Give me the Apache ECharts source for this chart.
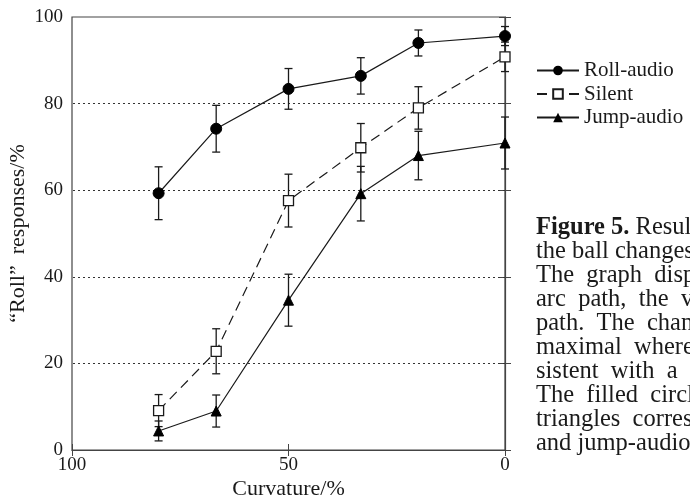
<!DOCTYPE html>
<html>
<head>
<meta charset="utf-8">
<script src="https://cdn.jsdelivr.net/npm/echarts@6/dist/echarts.min.js"></script>
<style>
html,body{margin:0;padding:0;background:#fff;}
#chart{width:690px;height:498px;}
</style>
</head>
<body>
<div id="chart"></div>
<script>
// Curvature (%) for each condition
var curvature = [80, 66.7, 50, 33.3, 20, 0];
// "Roll" responses (%)
var rollAudio = [59.3, 74.2, 83.4, 86.4, 94.0, 95.6];
var rollAudioErr = [6.1, 5.4, 4.7, 4.2, 3.0, 2.2];
var silent = [9.1, 22.8, 57.6, 69.8, 79.0, 90.8];
var silentErr = [3.7, 5.2, 6.1, 5.6, 4.9, 3.4];
var jumpAudio = [4.4, 9.0, 34.6, 59.2, 68.0, 70.9];
var jumpAudioErr = [2.3, 3.7, 6.0, 6.3, 5.6, 6.0];
var seriesNames = ['Roll-audio', 'Silent', 'Jump-audio'];
var xTicks = [100, 50, 0];
var yTicks = [0, 20, 40, 60, 80, 100];
var captionLines = [
  'the ball changes',
  'The  graph  displays',
  'arc  path,  the  v',
  'path.  The  change',
  'maximal  where',
  'sistent  with  a',
  'The  filled  circles',
  'triangles  correspond',
  'and jump-audio'
];

var FONT = 'Liberation Serif';
var INK = '#1a1a1a';

function pairs(xs, ys) { return xs.map(function (x, i) { return [x, ys[i]]; }); }
function errData(xs, ys, es) { return xs.map(function (x, i) { return [x, ys[i] - es[i], ys[i] + es[i]]; }); }

function errRender(params, api) {
  var x = api.value(0);
  var lo = api.coord([x, api.value(1)]);
  var hi = api.coord([x, api.value(2)]);
  var w = 4;
  var st = { stroke: INK, lineWidth: 1.3 };
  return {
    type: 'group',
    children: [
      { type: 'line', shape: { x1: lo[0], y1: lo[1], x2: hi[0], y2: hi[1] }, style: st },
      { type: 'line', shape: { x1: lo[0] - w, y1: lo[1], x2: lo[0] + w, y2: lo[1] }, style: st },
      { type: 'line', shape: { x1: hi[0] - w, y1: hi[1], x2: hi[0] + w, y2: hi[1] }, style: st }
    ]
  };
}

var chart = echarts.init(document.getElementById('chart'), null, { renderer: 'canvas' });

var CAP_FS = 24.5, CAP_TOP = 215, CAP_LH = 24;
var captionGraphics = [{
  type: 'text', left: 536, top: CAP_TOP,
  style: {
    text: '{b|Figure 5.} Results',
    rich: { b: { fontFamily: FONT, fontSize: CAP_FS, fontWeight: 'bold', fill: INK } },
    fontFamily: FONT, fontSize: CAP_FS, fill: INK
  }
}];
captionLines.forEach(function (t, i) {
  captionGraphics.push({
    type: 'text', left: 536, top: CAP_TOP + (i + 1) * CAP_LH,
    style: { text: t, fontFamily: FONT, fontSize: CAP_FS, fill: INK }
  });
});

var gridLines = yTicks.filter(function (v) { return v > 0 && v < 100; })
  .map(function (v) { return { yAxis: v }; });

chart.setOption({
  animation: false,
  backgroundColor: '#fff',
  textStyle: { fontFamily: FONT },
  grid: { left: 72, right: 185, top: 17, bottom: 48, outerBoundsMode: 'none', containLabel: false,
    show: true, borderColor: '#444', borderWidth: 1.2, backgroundColor: 'transparent' },
  legend: {
    orient: 'vertical', left: 531, top: 55,
    itemWidth: 42, itemHeight: 12, itemGap: 2.5,
    textStyle: { fontFamily: FONT, fontSize: 21, color: INK },
    data: seriesNames
  },
  xAxis: [{
    type: 'value', inverse: true, min: 0, max: 100, interval: 50,
    axisLine: { show: true, lineStyle: { color: '#444', width: 1.2 } },
    axisTick: { show: true, inside: true, length: 6, lineStyle: { color: '#444' } },
    axisLabel: { fontFamily: FONT, fontSize: 19, color: INK, margin: 6,
      formatter: function (v) { return xTicks.indexOf(v) >= 0 ? String(v) : ''; } },
    splitLine: { show: false },
    name: 'Curvature/%', nameLocation: 'middle', nameGap: 28, nameMoveOverlap: false,
    nameTextStyle: { fontFamily: FONT, fontSize: 22, color: INK }
  }, {
    type: 'value', inverse: true, min: 0, max: 100, interval: 50, position: 'top',
    axisLine: { show: false },
    axisTick: { show: true, inside: true, length: 6, lineStyle: { color: '#444' } },
    axisLabel: { show: false }, splitLine: { show: false }
  }],
  yAxis: [{
    type: 'value', min: 0, max: 100, interval: 20,
    axisLine: { show: true, lineStyle: { color: '#444', width: 1.2 } },
    axisTick: { show: true, inside: true, length: 6, lineStyle: { color: '#444' } },
    axisLabel: { fontFamily: FONT, fontSize: 19, color: INK, margin: 9,
      formatter: function (v) { return yTicks.indexOf(v) >= 0 ? String(v) : ''; } },
    splitLine: { show: false },
    name: '\u201CRoll\u201D  responses/%', nameLocation: 'middle', nameGap: 43, nameMoveOverlap: false,
    nameTextStyle: { fontFamily: FONT, fontSize: 22, color: INK }
  }, {
    type: 'value', min: 0, max: 100, interval: 20, position: 'right',
    axisLine: { show: false },
    axisTick: { show: true, inside: true, length: 6, lineStyle: { color: '#444' } },
    axisLabel: { show: false }, splitLine: { show: false }
  }],
  graphic: captionGraphics,
  series: [
    { type: 'custom', name: 'errRoll', renderItem: errRender, data: errData(curvature, rollAudio, rollAudioErr), z: 2, silent: true },
    { type: 'custom', name: 'errSilent', renderItem: errRender, data: errData(curvature, silent, silentErr), z: 2, silent: true },
    { type: 'custom', name: 'errJump', renderItem: errRender, data: errData(curvature, jumpAudio, jumpAudioErr), z: 2, silent: true },
    {
      type: 'line', name: seriesNames[0], data: pairs(curvature, rollAudio),
      symbol: 'circle', symbolSize: 11,
      itemStyle: { color: '#000', borderColor: '#000' },
      lineStyle: { color: INK, width: 1.2 }, z: 3,
      markLine: {
        silent: true, symbol: 'none', label: { show: false }, z: 1,
        lineStyle: { color: '#333', type: [2, 3], width: 1 },
        emphasis: { disabled: true },
        data: gridLines
      }
    },
    {
      type: 'line', name: seriesNames[1], data: pairs(curvature, silent),
      symbol: 'rect', symbolSize: 10,
      itemStyle: { color: '#fff', borderColor: INK, borderWidth: 1.3 },
      lineStyle: { color: INK, width: 1.2, type: [10, 6] }, z: 3
    },
    {
      type: 'line', name: seriesNames[2], data: pairs(curvature, jumpAudio),
      symbol: 'triangle', symbolSize: 10,
      itemStyle: { color: '#000', borderColor: '#000' },
      lineStyle: { color: INK, width: 1.2 }, z: 3
    }
  ]
});
</script>
</body>
</html>
